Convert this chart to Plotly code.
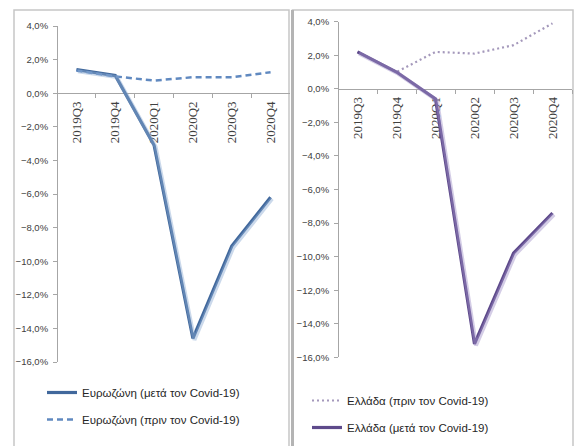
import plotly.graph_objects as go

quarters = ["2019Q3", "2019Q4", "2020Q1", "2020Q2", "2020Q3", "2020Q4"]
ez_after = [1.4, 1.05, -3.1, -14.6, -9.1, -6.2]
ez_before = [1.35, 1.0, 0.75, 0.95, 0.95, 1.25]
gr_before = [2.2, 1.0, 2.2, 2.1, 2.6, 3.9]
gr_after = [2.2, 1.0, -0.6, -15.2, -9.8, -7.4]

name_ez_after = "Ευρωζώνη (μετά τον Covid-19)"
name_ez_before = "Ευρωζώνη (πριν τον Covid-19)"
name_gr_before = "Ελλάδα (πριν τον Covid-19)"
name_gr_after = "Ελλάδα (μετά τον Covid-19)"

W, H = 574, 446
def px(x):
    return x / W
def py(y):
    return 1 - y / H

yr = [-16, 4]
L = dict(x0=57, x1=290, ytop=26, ybot=362)
R = dict(x0=338, x1=572, ytop=21.7, ybot=357.3)

def zero_pos(p):
    top, bot = py(p["ytop"]), py(p["ybot"])
    return bot + (0 - yr[0]) / (yr[1] - yr[0]) * (top - bot)

fig = go.Figure()

sh = 1.5  # shadow offset px

fig.add_trace(go.Scatter(x=quarters, y=ez_after, mode="lines", xaxis="x3", yaxis="y3",
                         line=dict(color="rgba(140,170,210,0.45)", width=4), showlegend=False, hoverinfo="skip"))
fig.add_trace(go.Scatter(x=quarters, y=gr_after, mode="lines", xaxis="x4", yaxis="y4",
                         line=dict(color="rgba(160,145,200,0.45)", width=4), showlegend=False, hoverinfo="skip"))

fig.add_trace(go.Scatter(x=quarters, y=ez_after, mode="lines", name=name_ez_after, xaxis="x", yaxis="y",
                         line=dict(color="#41689c", width=3.2), legend="legend", legendgroup="a"))
fig.add_trace(go.Scatter(x=quarters, y=ez_before, mode="lines", name=name_ez_before, xaxis="x", yaxis="y",
                         line=dict(color="#6089c0", width=2.5, dash="6px,4px"), legend="legend", legendgroup="b"))
fig.add_trace(go.Scatter(x=quarters, y=gr_before, mode="lines", name=name_gr_before, xaxis="x2", yaxis="y2",
                         line=dict(color="#a498bb", width=2.2, dash="2px,3px"), legend="legend2", legendgroup="c"))
fig.add_trace(go.Scatter(x=quarters, y=gr_after, mode="lines", name=name_gr_after, xaxis="x2", yaxis="y2",
                         line=dict(color="#5e4a8b", width=3.2), legend="legend2", legendgroup="d"))

tickfont_y = dict(family="Liberation Sans, Arial", size=9.5, color="#404040")
tickfont_x = dict(family="Liberation Serif, Times New Roman", size=13, color="#404040")

def xaxis(p):
    return dict(domain=[px(p["x0"]), px(p["x1"])], anchor="free", position=zero_pos(p),
                type="category", range=[-0.5, 5.5], showline=True, linecolor="#a6a6a6", linewidth=1,
                ticks="outside", ticklen=4, tickcolor="#a6a6a6", tickson="boundaries",
                tickangle=-90, tickfont=tickfont_x, showgrid=False, zeroline=False,
                ticklabelstandoff=2,
                layer="below traces", fixedrange=True, automargin=False)

def yaxis(p):
    return dict(domain=[py(p["ybot"]), py(p["ytop"])], range=yr, dtick=2, tick0=0,
                tickformat=".1f", ticksuffix="%", showline=True, linecolor="#a6a6a6", linewidth=1,
                ticks="outside", ticklen=4, tickcolor="#a6a6a6", tickfont=tickfont_y,
                ticklabelstandoff=3,
                showgrid=False, zeroline=False, layer="below traces", anchor="free",
                position=px(p["x0"]), fixedrange=True, automargin=False)

def hidden_x(p, anchor):
    return dict(domain=[px(p["x0"] + sh), px(p["x1"] + sh)], type="category", range=[-0.5, 5.5],
                visible=False, anchor=anchor, fixedrange=True, automargin=False)

def hidden_y(p):
    return dict(domain=[py(p["ybot"] + sh), py(p["ytop"] + sh)], range=yr, visible=False,
                fixedrange=True, automargin=False)

legfont = dict(family="Liberation Sans, Arial", size=11.5, color="#262626")

fig.update_layout(
    template="none",
    width=W, height=H, autosize=False,
    margin=dict(l=0, r=0, t=0, b=0, pad=0),
    paper_bgcolor="white", plot_bgcolor="rgba(0,0,0,0)",
    separators=",.",
    xaxis=xaxis(L), yaxis=yaxis(L), xaxis2=xaxis(R), yaxis2=yaxis(R),
    xaxis3=hidden_x(L, "y3"), yaxis3=hidden_y(L),
    xaxis4=hidden_x(R, "y4"), yaxis4=hidden_y(R),
    legend=dict(x=px(42), y=py(378), xanchor="left", yanchor="top", font=legfont,
                bgcolor="rgba(0,0,0,0)", traceorder="grouped", tracegroupgap=8, itemwidth=30),
    legend2=dict(x=px(307), y=py(386), xanchor="left", yanchor="top", font=legfont,
                 bgcolor="rgba(0,0,0,0)", traceorder="grouped", tracegroupgap=8, itemwidth=30),
    shapes=[
        dict(type="rect", xref="paper", yref="paper", x0=px(14), x1=px(289), y0=-0.05, y1=py(10),
             line=dict(color="#c6c6c6", width=1.5), layer="below"),
        dict(type="rect", xref="paper", yref="paper", x0=px(292.5), x1=px(573), y0=-0.05, y1=py(10),
             line=dict(color="#c6c6c6", width=1.5), layer="below"),
        dict(type="line", xref="paper", yref="paper", x0=px(292.5), x1=px(292.5), y0=-0.05, y1=py(10),
             line=dict(color="#b4b4b4", width=3), layer="below"),
    ],
    showlegend=True,
)

fig.write_html("out.html", config={"displayModeBar": False},
               post_script="document.body.style.margin='0';document.body.style.overflow='hidden';")
